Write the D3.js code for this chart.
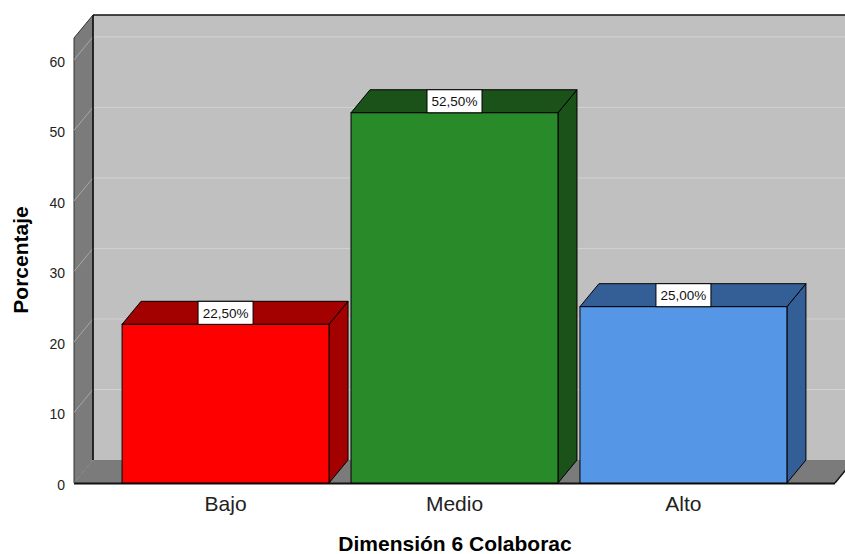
<!DOCTYPE html>
<html>
<head>
<meta charset="utf-8">
<script src="https://cdn.jsdelivr.net/npm/d3@7"></script>
<style>
  body { margin: 0; background: #fff; }
  text { font-family: "Liberation Sans", Arial, sans-serif; }
</style>
</head>
<body>
<div id="chart"></div>
<script>
var categories = ["Bajo", "Medio", "Alto"];
var values = [22.5, 52.5, 25.0];
var valueLabels = ["22,50%", "52,50%", "25,00%"];
var frontColors = ["#ff0000", "#298a29", "#5596e6"];
var darkColors = ["#a30000", "#1a521a", "#345f96"];
var yTicks = [0, 10, 20, 30, 40, 50, 60];

var svgWidth = 845;
var svgHeight = 554;

// depth of the 3d effect
var dx = 19;
var dy = 23;

var svg = d3.select("#chart")
  .append("svg")
  .attr("width", svgWidth)
  .attr("height", svgHeight);

var xScale = d3.scaleBand()
  .domain(categories)
  .range([74, 835])
  .paddingInner(0.096)
  .paddingOuter(0.21);

var yScale = d3.scaleLinear()
  .domain([0, 63.1])
  .range([483, 38]);

var x0 = 74, x1 = 835;
var y0 = yScale(0), yTop = yScale(63.1);

// back wall
svg.append("rect")
  .attr("x", x0 + dx)
  .attr("y", yTop - dy)
  .attr("width", svgWidth)
  .attr("height", y0 - yTop)
  .attr("fill", "#c0c0c0");

// grid on back wall and left wall
yTicks.slice(1).forEach(function(t) {
  svg.append("line")
    .attr("x1", x0 + dx).attr("x2", svgWidth + 10)
    .attr("y1", yScale(t) - dy).attr("y2", yScale(t) - dy)
    .attr("stroke", "#d2d2d2").attr("stroke-width", 1);
});

// left wall
svg.append("polygon")
  .attr("points", [[x0, yTop], [x0 + dx, yTop - dy], [x0 + dx, y0 - dy], [x0, y0]].join(" "))
  .attr("fill", "#7b7b7b")
  .attr("stroke", "#333")
  .attr("stroke-width", 1);

yTicks.forEach(function(t) {
  svg.append("line")
    .attr("x1", x0).attr("y1", yScale(t))
    .attr("x2", x0 + dx).attr("y2", yScale(t) - dy)
    .attr("stroke", "#a8a8a8").attr("stroke-width", 1);
});

// floor
svg.append("polygon")
  .attr("points", [[x0, y0], [x0 + dx, y0 - dy], [x1 + dx, y0 - dy], [x1, y0]].join(" "))
  .attr("fill", "#7b7b7b");

svg.append("line")
  .attr("x1", x0).attr("x2", x1)
  .attr("y1", y0 + 0.5).attr("y2", y0 + 0.5)
  .attr("stroke", "#111").attr("stroke-width", 2);
svg.append("line")
  .attr("x1", x1).attr("y1", y0)
  .attr("x2", x1 + dx).attr("y2", y0 - dy)
  .attr("stroke", "#111").attr("stroke-width", 1.5);

// back wall edges
svg.append("line")
  .attr("x1", x0 + dx).attr("x2", svgWidth)
  .attr("y1", yTop - dy).attr("y2", yTop - dy)
  .attr("stroke", "#111").attr("stroke-width", 1.5);
svg.append("line")
  .attr("x1", x0 + dx).attr("x2", x0 + dx)
  .attr("y1", yTop - dy).attr("y2", y0 - dy)
  .attr("stroke", "#111").attr("stroke-width", 1.5);

// bars
var bw = xScale.bandwidth();
var bars = svg.selectAll(".bar")
  .data(categories)
  .enter()
  .append("g")
  .attr("class", "bar");

bars.append("polygon")
  .attr("points", function(d, i) {
    var l = xScale(d), r = l + bw, t = yScale(values[i]);
    return [[r, t], [r + dx, t - dy], [r + dx, y0 - dy], [r, y0]].join(" ");
  })
  .attr("fill", (d, i) => darkColors[i])
  .attr("stroke", "#000")
  .attr("stroke-width", 1);

bars.append("polygon")
  .attr("points", function(d, i) {
    var l = xScale(d), r = l + bw, t = yScale(values[i]);
    return [[l, t], [l + dx, t - dy], [r + dx, t - dy], [r, t]].join(" ");
  })
  .attr("fill", (d, i) => darkColors[i])
  .attr("stroke", "#000")
  .attr("stroke-width", 1);

bars.append("rect")
  .attr("x", d => xScale(d))
  .attr("y", (d, i) => yScale(values[i]))
  .attr("width", bw)
  .attr("height", (d, i) => y0 - yScale(values[i]))
  .attr("fill", (d, i) => frontColors[i])
  .attr("stroke", "#000")
  .attr("stroke-width", 1);

// value labels
var labelW = 55;
bars.append("rect")
  .attr("x", d => xScale(d) + bw / 2 - labelW / 2)
  .attr("y", (d, i) => yScale(values[i]) - dy)
  .attr("width", labelW)
  .attr("height", dy)
  .attr("fill", "#fff")
  .attr("stroke", "#000")
  .attr("stroke-width", 1);

bars.append("text")
  .attr("x", d => xScale(d) + bw / 2)
  .attr("y", (d, i) => yScale(values[i]) - dy / 2 + 5)
  .attr("text-anchor", "middle")
  .attr("font-size", "13.5px")
  .attr("fill", "#111")
  .text((d, i) => valueLabels[i]);

// y tick labels
svg.selectAll(".ytick")
  .data(yTicks)
  .enter()
  .append("text")
  .attr("class", "ytick")
  .attr("x", 65)
  .attr("y", d => yScale(d) + 7)
  .attr("text-anchor", "end")
  .attr("font-size", "14px")
  .attr("fill", "#222")
  .text(d => d);

// category labels
svg.selectAll(".xlabel")
  .data(categories)
  .enter()
  .append("text")
  .attr("class", "xlabel")
  .attr("x", d => xScale(d) + bw / 2)
  .attr("y", 511)
  .attr("text-anchor", "middle")
  .attr("font-size", "21px")
  .attr("fill", "#222")
  .text(d => d);

// axis titles
svg.append("text")
  .attr("x", 455)
  .attr("y", 551)
  .attr("text-anchor", "middle")
  .attr("font-size", "21px")
  .attr("font-weight", "bold")
  .attr("fill", "#000")
  .text("Dimensión 6 Colaborac");

svg.append("text")
  .attr("transform", "translate(28, 260) rotate(-90)")
  .attr("text-anchor", "middle")
  .attr("font-size", "21px")
  .attr("font-weight", "bold")
  .attr("fill", "#000")
  .text("Porcentaje");
</script>
</body>
</html>
